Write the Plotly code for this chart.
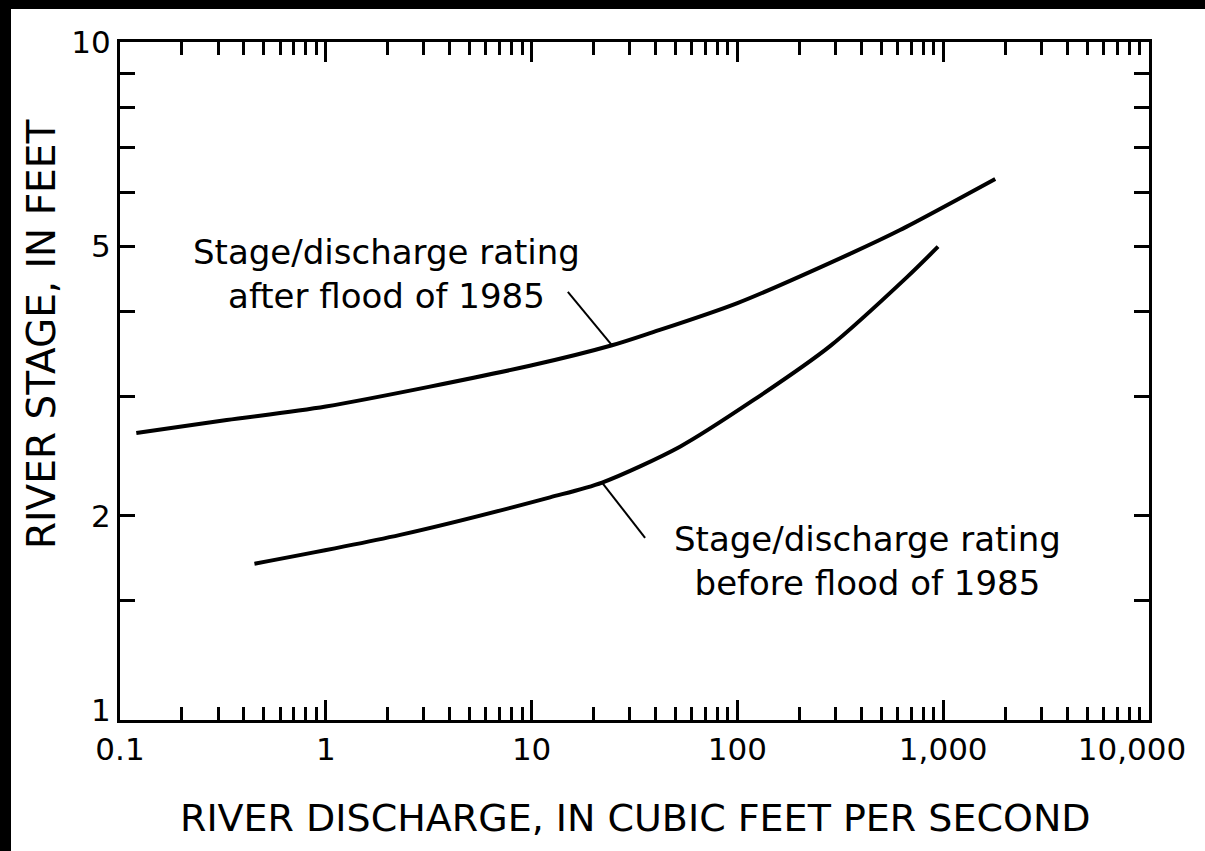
import plotly.graph_objects as go

# ---- data ----
q_after = [0.12, 0.33, 1.0, 9.8, 24.6, 37.6, 100, 352, 617, 1790]
s_after = [2.65, 2.77, 2.90, 3.33, 3.57, 3.72, 4.12, 4.87, 5.28, 6.28]

q_before = [0.45, 2.3, 12.3, 22.0, 52.6, 119, 282, 667, 944]
s_before = [1.70, 1.875, 2.13, 2.24, 2.53, 2.96, 3.56, 4.50, 4.99]

leader_after_q = [15.0, 24.6]
leader_after_s = [4.28, 3.57]
leader_before_q = [22.0, 35.6]
leader_before_s = [2.24, 1.856]

x_tickvals = [0.1, 1, 10, 100, 1000, 10000]
x_ticktext = ["0.1", "1", "10", "100", "1,000", ""]
x_last_tick = [10000]
x_last_text = ["10,000"]
x_minor = [m * d for d in [0.1, 1, 10, 100, 1000] for m in range(2, 10)]

y_tickvals = [1, 2, 5, 10]
y_ticktext = ["", "2", "5", "10"]
y_first_tick = [1]
y_first_text = ["1"]
y_minor = [1.5, 3, 4, 6, 7, 8, 9]

label_after = "Stage/discharge rating<br>after flood of 1985"
label_before = "Stage/discharge rating<br>before flood of 1985"
x_title = "RIVER DISCHARGE, IN CUBIC FEET PER SECOND"
y_title = "RIVER STAGE, IN FEET"

FONT = "DejaVu Sans"
TICKFONT = dict(family=FONT, size=31, color="black")

fig = go.Figure()
fig.add_trace(go.Scatter(x=q_after, y=s_after, mode="lines",
                         line=dict(color="black", width=4, shape="spline", smoothing=0.8),
                         hoverinfo="skip", showlegend=False))
fig.add_trace(go.Scatter(x=q_before, y=s_before, mode="lines",
                         line=dict(color="black", width=4, shape="spline", smoothing=0.8),
                         hoverinfo="skip", showlegend=False))
fig.add_trace(go.Scatter(x=leader_after_q, y=leader_after_s, mode="lines",
                         xaxis="x2", yaxis="y2",
                         line=dict(color="black", width=2), hoverinfo="skip", showlegend=False))
fig.add_trace(go.Scatter(x=leader_before_q, y=leader_before_s, mode="lines",
                         xaxis="x2", yaxis="y2",
                         line=dict(color="black", width=2), hoverinfo="skip", showlegend=False))

W, H = 1205, 851
L, R, T, B = 120, 56, 42, 131
pw, ph = W - L - R, H - T - B

def px(xp):
    return (xp - L) / pw

def py(yp):
    return (H - B - yp) / ph

fig.update_layout(
    width=W, height=H,
    margin=dict(l=L, r=R, t=T, b=B, pad=0),
    paper_bgcolor="white", plot_bgcolor="white",
    font=dict(family=FONT, color="black", size=30),
    xaxis=dict(type="log", range=[-1, 4], showgrid=False, zeroline=False,
               showline=True, linecolor="black", linewidth=3, mirror="ticks",
               ticks="inside", ticklen=20, tickwidth=3, tickcolor="black",
               tickvals=x_tickvals, ticktext=x_ticktext, tickfont=TICKFONT,
               minor=dict(tickvals=x_minor, ticks="inside", ticklen=13, tickwidth=3,
                          tickcolor="black", showgrid=False)),
    xaxis2=dict(type="log", range=[-1, 4], overlaying="x", side="bottom",
                showgrid=False, zeroline=False, showline=True,
                linecolor="black", linewidth=3,
                ticks="inside", ticklen=20, tickwidth=3, tickcolor="black",
                tickvals=x_last_tick, ticktext=x_last_text,
                tickfont=TICKFONT, ticklabelshift=-17),
    yaxis=dict(type="log", range=[0, 1], showgrid=False, zeroline=False,
               showline=True, linecolor="black", linewidth=3, mirror="ticks",
               ticks="inside", ticklen=15, tickwidth=3, tickcolor="black",
               tickvals=y_tickvals, ticktext=y_ticktext, tickfont=TICKFONT,
               minor=dict(tickvals=y_minor, ticks="inside", ticklen=15, tickwidth=3,
                          tickcolor="black", showgrid=False)),
    yaxis2=dict(type="log", range=[0, 1], overlaying="y", side="left",
                showgrid=False, zeroline=False, showline=True,
                linecolor="black", linewidth=3,
                ticks="inside", ticklen=15, tickwidth=3, tickcolor="black",
                tickvals=y_first_tick, ticktext=y_first_text,
                tickfont=TICKFONT, ticklabelshift=-10),
    showlegend=False,
)

fig.add_annotation(text=label_after, xref="paper", yref="paper",
                   x=px(386), y=py(274), xanchor="center", yanchor="middle",
                   showarrow=False, align="center",
                   font=dict(family=FONT, size=34, color="black"))
fig.add_annotation(text=label_before, xref="paper", yref="paper",
                   x=px(867), y=py(561), xanchor="center", yanchor="middle",
                   showarrow=False, align="center",
                   font=dict(family=FONT, size=34, color="black"))
fig.add_annotation(text=x_title, xref="paper", yref="paper",
                   x=px(635), y=py(818), xanchor="center", yanchor="middle",
                   showarrow=False, font=dict(family=FONT, size=38, color="black"))
fig.add_annotation(text=y_title, xref="paper", yref="paper",
                   x=px(41), y=py(335), xanchor="center", yanchor="middle",
                   showarrow=False, textangle=-90,
                   font=dict(family=FONT, size=39, color="black"))

# black bands along the top and left edges of the picture
fig.add_shape(type="rect", xref="paper", yref="paper",
              x0=px(0), x1=px(W), y0=py(9), y1=py(0),
              fillcolor="black", line=dict(width=0), layer="above")
fig.add_shape(type="rect", xref="paper", yref="paper",
              x0=px(0), x1=px(11), y0=py(H), y1=py(0),
              fillcolor="black", line=dict(width=0), layer="above")

fig.write_html("out.html", config={"displayModeBar": False},
               post_script="document.body.style.margin='0';document.body.style.overflow='hidden';")
